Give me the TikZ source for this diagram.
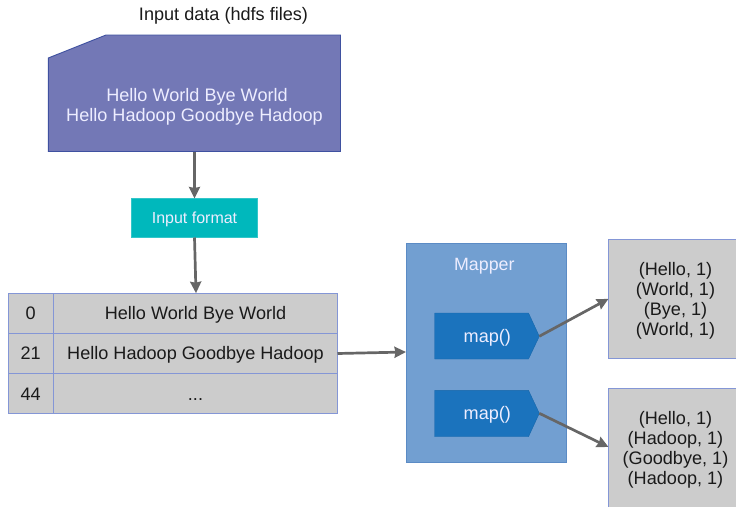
\documentclass[tikz,border=0pt]{standalone}
\usepackage{fontspec}
\setmainfont{Liberation Sans}
\usetikzlibrary{arrows.meta,calc}
\definecolor{cardfill}{HTML}{7378B6}
\definecolor{cardline}{HTML}{3F51A0}
\definecolor{fmtfill}{HTML}{00B8BC}
\definecolor{greyfill}{HTML}{CCCCCC}
\definecolor{greyline}{HTML}{8496D6}
\definecolor{mapperfill}{HTML}{729FD1}
\definecolor{mapperline}{HTML}{5B8BC5}
\definecolor{mapfill}{HTML}{1B73BD}
\definecolor{arrowgrey}{HTML}{666666}
\definecolor{inktext}{HTML}{1A1A1A}
\tikzset{
  txt/.style={font=\fontsize{18.1}{20.3}\selectfont,text=inktext,align=center,inner sep=0pt},
  whitetxt/.style={txt,text=white!93!blue},
  cell/.style={draw=greyline,fill=greyfill,line width=1pt,rectangle,inner sep=0pt,outer sep=0pt,txt},
  rowcell/.style={cell,minimum height=40.2pt,text height=14pt,text depth=1.2pt},
  arr/.style={draw=arrowgrey,line width=2.7pt,-{Stealth[length=11.5pt,width=11pt,inset=1pt]},shorten >=0pt},
  mapshape/.style={fill=mapfill,draw=mapfill!90!black,line width=0.4pt}
}
\begin{document}
\begin{tikzpicture}[x=1pt,y=-1pt]
\useasboundingbox (0,0) rectangle (736,506);
\clip (0,0) rectangle (736,506);
\node[txt] (title) at (223.5,16.3) {Input data (hdfs files)};
% input card
\coordinate (cardA) at (48.3,58);
\coordinate (cardB) at (106,35);
\coordinate (cardC) at (340.5,35);
\coordinate (cardD) at (340.5,151.5);
\coordinate (cardE) at (48.3,151.5);
\coordinate (cardOut) at (194.5,151.5);
\draw[fill=cardfill,draw=cardline,line width=0.9pt] (cardA) -- (cardB) -- (cardC) -- (cardD) -- (cardE) -- cycle;
\node[whitetxt] (cardText) at (194.5,106.8) {\hspace*{5pt}Hello World Bye World\\Hello Hadoop Goodbye Hadoop};
% input format
\node[rectangle,fill=fmtfill,draw=fmtfill!80!white,line width=0.6pt,minimum width=126.5pt,minimum height=39pt,inner sep=0pt,outer sep=0pt,font=\fontsize{16}{18}\selectfont,text=white!93!blue,text height=12.5pt,text depth=1pt] (fmt) at (194.5,218) {Input format};
% table
\node[rowcell,minimum width=45.5pt] (k0) at (30.75,313.3) {0};
\node[rowcell,minimum width=45.5pt] (k1) at (30.75,353.5) {21};
\node[rowcell,minimum width=45.5pt] (k2) at (30.75,393.7) {44};
\node[rowcell,minimum width=284pt] (v0) at (195.5,313.3) {Hello World Bye World};
\node[rowcell,minimum width=284pt] (v1) at (195.5,353.5) {Hello Hadoop Goodbye Hadoop};
\node[rowcell,minimum width=284pt] (v2) at (195.5,393.7) {...};
% mapper
\node[rectangle,fill=mapperfill,draw=mapperline,line width=0.9pt,minimum width=160.5pt,minimum height=219pt,inner sep=0pt,outer sep=0pt] (mapper) at (486.25,353) {};
\node[whitetxt,font=\fontsize{17.8}{20}\selectfont] (mapperText) at (484.3,266) {Mapper};
\coordinate (mapTipA) at (539.3,336.3);
\coordinate (mapTipB) at (539.3,413.3);
\draw[mapshape] (434.7,313) -- (528.5,313) -- (mapTipA) -- (528.5,359) -- (434.7,359) -- cycle;
\draw[mapshape] (434.7,390.3) -- (528.5,390.3) -- (mapTipB) -- (528.5,436.7) -- (434.7,436.7) -- cycle;
\node[whitetxt] (mapTextA) at (487.3,338.3) {map()};
\node[whitetxt] (mapTextB) at (487.3,415.3) {map()};
% outputs
\node[cell,minimum width=132pt,minimum height=119.5pt] (outA) at (674.5,298.8) {};
\node[cell,minimum width=132pt,minimum height=132pt] (outB) at (674.5,454) {};
\node[txt] (outAText) at (675.5,300.8) {(Hello, 1)\\(World, 1)\\(Bye, 1)\\(World, 1)};
\node[txt] (outBText) at (675.5,449.8) {(Hello, 1)\\(Hadoop, 1)\\(Goodbye, 1)\\(Hadoop, 1)};
% connectors
\draw[arr] (cardOut) -- (fmt.north);
\draw[arr] (fmt.south) -- ($(v0.north)+(0.5,0)$);
\draw[arr] (v1.east) -- ($(mapper.west)+(0,-1)$);
\draw[arr] (mapTipA) -- (outA.west);
\draw[arr] (mapTipB) -- ($(outB.west)+(0,-7)$);
\end{tikzpicture}
\end{document}
